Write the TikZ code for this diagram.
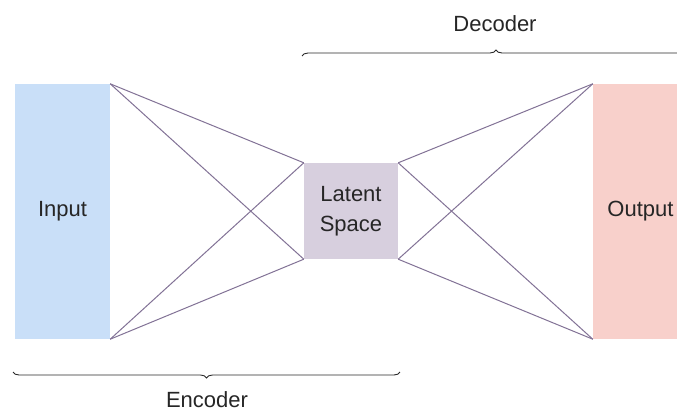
\documentclass[tikz,border=0pt]{standalone}
\usepackage{fontspec}
\setmainfont{Liberation Sans}
\usetikzlibrary{decorations.pathreplacing}
\definecolor{inblue}{RGB}{201,223,248}
\definecolor{outpink}{RGB}{248,208,203}
\definecolor{latgray}{RGB}{215,207,222}
\definecolor{linkcol}{RGB}{130,114,150}
\definecolor{bracecol}{RGB}{40,40,40}
\begin{document}
\begin{tikzpicture}[x=1pt,y=-1pt,
  every node/.style={font=\fontsize{22}{30}\selectfont, text=black!85},
  block/.style={draw=none, inner sep=0pt, minimum width=95pt, minimum height=255pt},
  latentbox/.style={draw=none, inner sep=0pt, minimum width=94pt, minimum height=96pt, align=center},
  link/.style={draw=linkcol, line width=1pt},
  bracket/.style={draw=bracecol, line width=0.9pt, decorate,
    decoration={brace, amplitude=6pt}}]
  \clip (0,0) rectangle (677,410);
  \fill[white] (0,0) rectangle (677,410);

  % layers
  \node[block, fill=inblue] (in) at (62.5,211.5) {Input};
  \node[block, fill=outpink] (out) at (640.5,211.5) {Output};
  \node[latentbox, fill=latgray] (lat) at (351,211) {Latent\\Space};

  % encoder connections
  \draw[link] (in.north east) -- (lat.north west);
  \draw[link] (in.north east) -- (lat.south west);
  \draw[link] (in.south east) -- (lat.north west);
  \draw[link] (in.south east) -- (lat.south west);

  % decoder connections
  \draw[link] (lat.north east) -- (out.north west);
  \draw[link] (lat.north east) -- (out.south west);
  \draw[link] (lat.south east) -- (out.north west);
  \draw[link] (lat.south east) -- (out.south west);

  % braces
  \coordinate (decL) at (302,56);
  \coordinate (decR) at (690,56);
  \coordinate (encR) at (400,372);
  \coordinate (encL) at (13,372);
  \draw[bracket] (decL) -- (decR);
  \draw[bracket] (encR) -- (encL);
  \node (declabel) at (495,24) {Decoder};
  \node (enclabel) at (207,400) {Encoder};
\end{tikzpicture}
\end{document}
